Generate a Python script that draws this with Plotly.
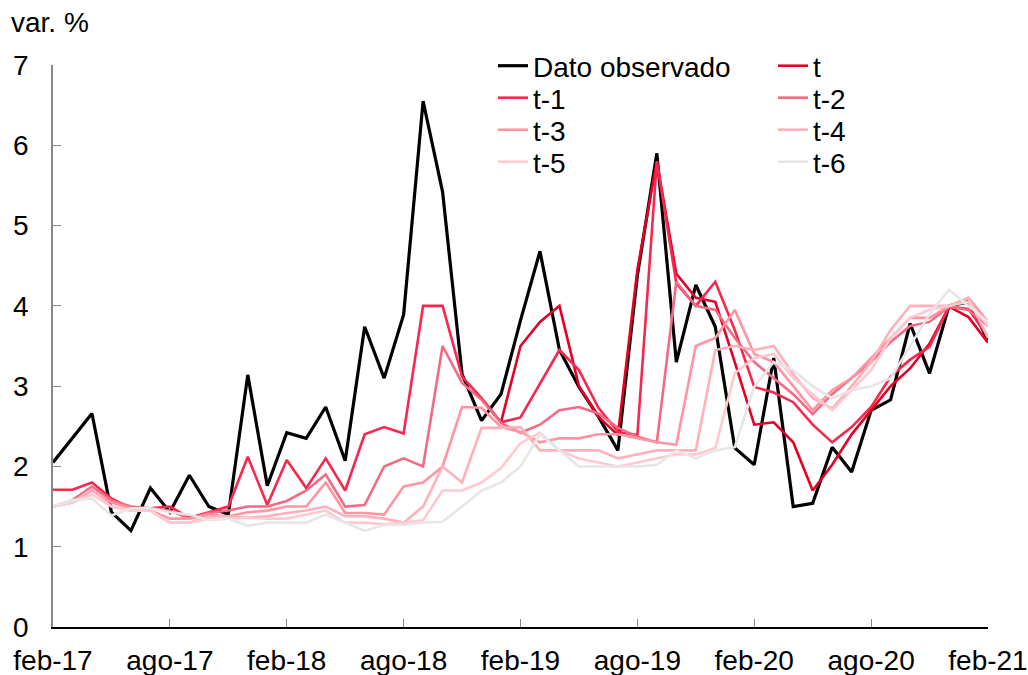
import plotly.graph_objects as go

months = ["feb","mar","abr","may","jun","jul","ago","sep","oct","nov","dic","ene"]
# monthly categories feb-17 .. feb-21
categories = []
yr = 17
for i in range(49):
    m = months[i % 12]
    if m == "ene":
        yr += 1
    categories.append(f"{m}-{yr}")

tick_labels = ["feb-17","ago-17","feb-18","ago-18","feb-19","ago-19","feb-20","ago-20","feb-21"]

observado = [2.05,2.35,2.66,1.43,1.2,1.73,1.43,1.89,1.5,1.4,3.14,1.76,2.42,2.35,2.74,2.07,3.74,3.1,3.89,6.55,
             5.42,3.15,2.57,2.9,3.82,4.68,3.45,2.99,2.62,2.2,4.38,5.9,3.3,4.26,3.74,2.23,2.02,3.35,1.5,1.54,
             2.24,1.93,2.7,2.83,3.78,3.16,4.0,4.05,3.57]
t0 = [None]*23 + [2.55,3.5,3.8,4.0,3.0,2.62,2.39,4.45,5.8,4.4,4.1,4.05,3.3,2.52,2.55,2.3,1.7,2.02,2.4,2.7,3.0,
                  3.22,3.53,3.99,3.86,3.54]
t1 = [1.71,1.71,1.8,1.6,1.48,1.48,1.5,1.36,1.43,1.5,2.12,1.52,2.08,1.73,2.1,1.7,2.4,2.49,2.41,4.0,
      4.0,3.12,2.85,2.55,2.61,3.03,3.45,3.2,2.73,2.43,2.39,5.8,4.28,4.0,4.3,3.7,2.99,2.92,2.8,2.52,
      2.3,2.49,2.74,3.12,3.33,3.49,3.99,3.96,3.62]
t2 = [1.5,1.58,1.75,1.58,1.5,1.48,1.45,1.35,1.42,1.45,1.5,1.5,1.57,1.7,1.9,1.5,1.52,2.0,2.1,2.0,
      3.5,3.04,2.83,2.54,2.42,2.52,2.7,2.74,2.66,2.48,2.37,2.3,4.3,4.0,3.95,3.6,3.3,3.1,2.9,2.65,
      2.9,3.1,3.3,3.55,3.75,3.8,3.99,3.95,3.75]
t3 = [1.5,1.55,1.7,1.55,1.48,1.45,1.35,1.35,1.4,1.38,1.43,1.45,1.5,1.5,1.8,1.42,1.42,1.4,1.75,1.8,
      2.0,2.74,2.73,2.49,2.43,2.3,2.35,2.35,2.4,2.4,2.35,2.3,2.27,3.5,3.6,3.95,3.4,3.3,3.0,2.7,
      2.95,3.1,3.35,3.6,3.85,3.85,4.0,4.1,3.8]
t4 = [1.5,1.55,1.72,1.5,1.45,1.45,1.3,1.3,1.38,1.38,1.36,1.38,1.42,1.45,1.5,1.38,1.38,1.35,1.3,1.5,
      2.0,1.8,2.48,2.48,2.49,2.2,2.2,2.2,2.2,2.1,2.15,2.2,2.2,2.2,3.45,3.5,3.45,3.5,3.15,2.85,
      2.72,3.0,3.3,3.7,4.0,4.0,4.0,4.1,3.6]
t5 = [1.5,1.55,1.65,1.5,1.45,1.45,1.3,1.3,1.35,1.35,1.36,1.35,1.35,1.4,1.45,1.3,1.3,1.28,1.3,1.33,
      1.7,1.7,1.8,1.98,2.29,2.42,2.2,2.1,2.05,2.0,2.05,2.1,2.15,2.15,2.23,3.16,3.35,3.4,3.1,2.9,
      2.7,2.95,3.2,3.6,3.85,3.95,4.0,4.05,3.75]
t6 = [1.5,1.58,1.6,1.39,1.48,1.48,1.43,1.4,1.33,1.35,1.26,1.3,1.3,1.3,1.4,1.3,1.2,1.27,1.27,1.3,
      1.31,1.5,1.7,1.8,2.0,2.4,2.2,2.0,2.0,2.0,2.0,2.02,2.2,2.1,2.2,2.24,2.99,3.3,3.2,3.0,
      2.85,2.95,3.0,3.1,3.5,3.9,4.2,4.0,3.8]

# (name, values, colour, width, legend row, legend entry width)
series = [
    ("Dato observado", observado, "#000000", 3.2, "legend", 235),
    ("t", t0, "#E60026", 2.6, "legend", 30),
    ("t-1", t1, "#F7284F", 2.6, "legend2", 235),
    ("t-2", t2, "#F26B85", 2.6, "legend2", 30),
    ("t-3", t3, "#FF94A3", 2.6, "legend3", 235),
    ("t-4", t4, "#FFB0BB", 2.6, "legend3", 30),
    ("t-5", t5, "#FFC9CF", 2.6, "legend4", 235),
    ("t-6", t6, "#E6E6E6", 2.6, "legend4", 30),
]

FONT = "Liberation Sans, Arial, sans-serif"
fig = go.Figure()
for name, vals, col, w, lg, lw in series:
    fig.add_trace(go.Scatter(x=categories, y=vals, name=name, mode="lines",
                             line=dict(color=col, width=w), legend=lg,
                             legendwidth=lw, connectgaps=False))

leg_common = dict(orientation="h", xanchor="left", yanchor="middle", x=0.4706,
                  font=dict(family=FONT, size=28, color="#000"),
                  entrywidthmode="pixels", itemwidth=30,
                  bgcolor="rgba(0,0,0,0)", borderwidth=0, tracegroupgap=0)
rows_y = [0.9982, 0.9413, 0.8843, 0.8274]
fig.update_layout(
    width=1028, height=675,
    margin=dict(l=53, r=40, t=65, b=48),
    plot_bgcolor="white", paper_bgcolor="white",
    font=dict(family=FONT, size=28, color="#000"),
    legend=dict(leg_common, y=rows_y[0]),
    legend2=dict(leg_common, y=rows_y[1]),
    legend3=dict(leg_common, y=rows_y[2]),
    legend4=dict(leg_common, y=rows_y[3]),
    xaxis=dict(type="category", range=[0, 48], tickmode="array", tickvals=tick_labels,
               ticktext=tick_labels, ticks="inside", ticklen=8, tickcolor="#888",
               showline=True, linecolor="#000", linewidth=1.5, showgrid=False,
               zeroline=False, ticklabelstandoff=8, automargin=False,
               tickfont=dict(family=FONT, size=28, color="#000")),
    yaxis=dict(range=[0, 7], dtick=1, ticks="inside", ticklen=8, tickcolor="#888",
               showline=True, linecolor="#888", linewidth=1.5, showgrid=False,
               zeroline=False, ticklabelstandoff=17, automargin=False,
               tickfont=dict(family=FONT, size=28, color="#000")),
    annotations=[dict(text="var. %", xref="paper", yref="paper", x=-0.0472, y=1.1066,
                      xanchor="left", yanchor="top", showarrow=False,
                      font=dict(family=FONT, size=28, color="#000"))],
)
fig.write_html("out.html", config={"displayModeBar": False},
               post_script="document.body.style.margin='0';document.body.style.overflow='hidden';")
